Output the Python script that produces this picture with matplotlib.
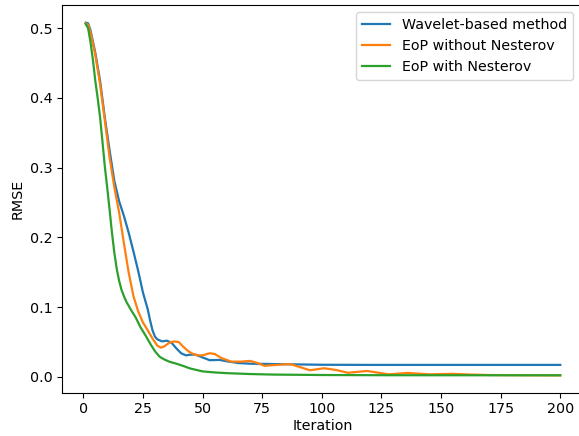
import matplotlib
matplotlib.use("Agg")
import matplotlib.pyplot as plt

# RMSE per iteration
wavelet_iter = [1, 2, 3, 5, 7, 9, 11, 13, 15, 17, 19, 21, 23, 25, 27, 28, 29, 30, 31,
                33, 35, 37, 39, 41, 43, 45, 47, 50, 53, 57, 61, 65, 70, 80, 90, 100,
                120, 150, 200]
wavelet_rmse = [0.508, 0.507, 0.497, 0.465, 0.425, 0.372, 0.325, 0.281, 0.252, 0.231,
                0.207, 0.180, 0.152, 0.121, 0.097, 0.081, 0.067, 0.058, 0.054,
                0.051, 0.052, 0.049, 0.041, 0.034, 0.031, 0.032, 0.032, 0.028, 0.024,
                0.0245, 0.022, 0.020, 0.019, 0.0185, 0.018, 0.0175,
                0.0173, 0.0173, 0.0173]

eop_iter = [1, 2, 3, 5, 7, 9, 11, 13, 15, 17, 19, 21, 23, 25, 27, 29, 31, 32.5, 34,
            36, 38, 40, 42, 44, 46, 48, 50, 53, 55, 58, 62, 66, 70, 73, 76, 80, 84,
            87, 91, 95, 101, 106, 111, 119, 128, 136, 145, 155, 162, 170, 185, 200]
eop_rmse = [0.507, 0.505, 0.494, 0.462, 0.420, 0.368, 0.315, 0.272, 0.236, 0.192,
            0.150, 0.116, 0.094, 0.078, 0.067, 0.055, 0.045, 0.042, 0.044,
            0.049, 0.051, 0.050, 0.043, 0.037, 0.033, 0.031, 0.031, 0.034, 0.033,
            0.027, 0.022, 0.022, 0.023, 0.020, 0.016, 0.017, 0.018,
            0.0183, 0.014, 0.0096, 0.0125, 0.010, 0.006, 0.0086, 0.0038, 0.0058,
            0.0038, 0.0045, 0.0035, 0.0028, 0.0025, 0.0023]

nest_iter = [1, 2, 3, 4, 5, 6, 7, 8, 9, 10, 11, 12, 13, 14, 15, 16, 17, 18, 20, 22,
             24, 26, 28, 30, 32, 34, 36, 40, 45, 50, 55, 60, 70, 80, 100, 130, 200]
nest_rmse = [0.506, 0.500, 0.480, 0.455, 0.425, 0.400, 0.373, 0.338, 0.302, 0.272,
             0.240, 0.207, 0.178, 0.155, 0.138, 0.125, 0.116, 0.108, 0.096, 0.085,
             0.071, 0.060, 0.048, 0.037, 0.029, 0.025, 0.022, 0.018, 0.012, 0.008,
             0.0065, 0.0055, 0.0042, 0.0034, 0.0028, 0.0025, 0.0024]

plt.rcParams["font.size"] = 10.3
plt.rcParams["lines.linewidth"] = 1.6

fig = plt.figure(figsize=(5.79, 4.36), dpi=100)
ax = fig.add_axes([62 / 579, 1 - 393 / 436, 522 / 579, 388 / 436])

ax.plot(wavelet_iter, wavelet_rmse, label="Wavelet-based method")
ax.plot(eop_iter, eop_rmse, label="EoP without Nesterov")
ax.plot(nest_iter, nest_rmse, label="EoP with Nesterov")

ax.tick_params(pad=3)
ax.set_xlabel("Iteration", labelpad=2)
ax.set_ylabel("RMSE")
ax.legend(loc="upper right", bbox_to_anchor=(0.992, 1.0))

fig.savefig("out.png", dpi=100)
